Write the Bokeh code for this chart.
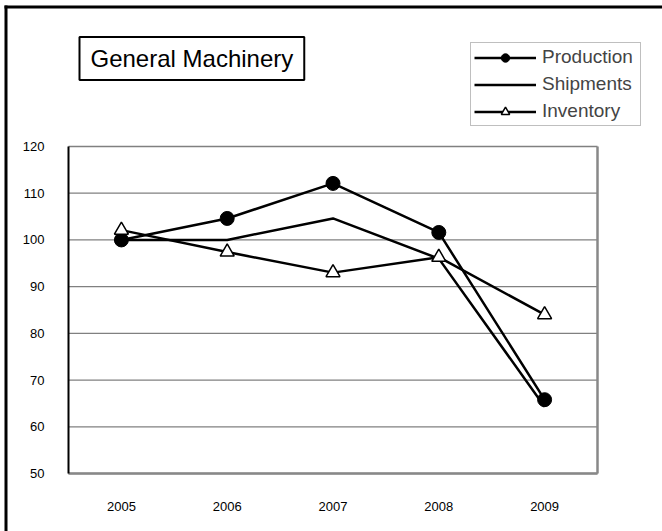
from bokeh.plotting import figure
from bokeh.models import (Range1d, Legend, LegendItem, Label, FixedTicker, BoxAnnotation)
from bokeh.embed import file_html
from bokeh.resources import INLINE

years = ["2005", "2006", "2007", "2008", "2009"]
production = [100.0, 104.6, 112.1, 101.6, 65.8]
shipments = [100.0, 100.0, 104.6, 96.0, 64.3]
inventory = [102.1, 97.4, 93.0, 96.3, 84.0]
y_ticks = [50, 60, 70, 80, 90, 100, 110, 120]
title_text = "General Machinery"

FONT = "Liberation Sans"
xs = [int(y) for y in years]

# ---- layout (canvas pixels) ----
W, H = 662, 531
PL, PR, PT, PB = 68, 597, 146, 473      # plot-area box edges
x0, x1 = xs[0] - 0.5, xs[-1] + 0.5
y0, y1 = y_ticks[0], y_ticks[-1]
ppx = (PR - PL) / (x1 - x0)
ppy = (PB - PT) / (y1 - y0)
x_start, x_end = x0 - PL / ppx, x1 + (W - PR) / ppx
y_start, y_end = y0 - (H - PB) / ppy, y1 + PT / ppy

p = figure(width=W, height=H, x_range=Range1d(x_start, x_end),
           y_range=Range1d(y_start, y_end), output_backend="svg", toolbar_location=None,
           min_border_left=0, min_border_right=0, min_border_top=0, min_border_bottom=0)
p.outline_line_color = None
p.background_fill_color = "white"
p.border_fill_color = "white"
p.grid.visible = False

# outer frame of the chart sheet (top and left edges visible)
p.add_layout(BoxAnnotation(left=x_start + 4 / ppx, right=x_end,
                           top=y_end - 5 / ppy, bottom=y_end - 8 / ppy,
                           fill_color="black", fill_alpha=1, line_color=None))
p.add_layout(BoxAnnotation(left=x_start + 4 / ppx, right=x_start + 7 / ppx,
                           top=y_end - 5 / ppy, bottom=y_start,
                           fill_color="black", fill_alpha=1, line_color=None))

# horizontal gridlines and right border of the plot area
n = len(y_ticks)
p.segment(x0=[x0] * n, y0=y_ticks, x1=[x1] * n, y1=y_ticks,
          line_color="#808080", line_width=1.3)
p.segment(x0=[x1], y0=[y0], x1=[x1], y1=[y1], line_color="#888888", line_width=2.5)

p.yaxis.fixed_location = x0
p.yaxis.ticker = FixedTicker(ticks=y_ticks)
p.yaxis.bounds = (y0, y1)
p.yaxis.axis_line_color = "black"
p.yaxis.axis_line_width = 2
p.yaxis.major_tick_line_color = None
p.yaxis.minor_tick_line_color = None
p.yaxis.major_label_standoff = 18
p.yaxis.major_label_text_font = FONT
p.yaxis.major_label_text_font_size = "13px"
p.yaxis.major_label_text_color = "black"

p.xaxis.fixed_location = y0
p.xaxis.ticker = FixedTicker(ticks=xs)
p.xaxis.bounds = (x0, x1)
p.xaxis.axis_line_color = "#888888"
p.xaxis.axis_line_width = 2.5
p.xaxis.major_tick_line_color = None
p.xaxis.minor_tick_line_color = None
p.xaxis.major_label_standoff = 22
p.xaxis.major_label_text_font = FONT
p.xaxis.major_label_text_font_size = "13px"
p.xaxis.major_label_text_color = "black"

r_prod = p.line(xs, production, line_color="black", line_width=2.5)
m_prod = p.scatter(xs, production, marker="circle", size=14, fill_color="black",
                   line_color="black")
r_ship = p.line(xs, shipments, line_color="black", line_width=2.5)
r_inv = p.line(xs, inventory, line_color="black", line_width=2.5)
m_inv = p.scatter(xs, inventory, marker="triangle", size=14, fill_color="white",
                  line_color="black", line_width=1.5)

legend = Legend(items=[LegendItem(label="Production", renderers=[r_prod, m_prod]),
                       LegendItem(label="Shipments", renderers=[r_ship]),
                       LegendItem(label="Inventory", renderers=[r_inv, m_inv])],
                location=(470, H - 126), orientation="vertical",
                glyph_width=62, glyph_height=21, label_height=21, label_width=95,
                label_standoff=6, spacing=5, padding=3, margin=0,
                label_text_font=FONT, label_text_font_size="19px",
                border_line_color="#808080", border_line_width=1,
                background_fill_color="white", background_fill_alpha=1)
p.add_layout(legend, "center")

title = Label(x=79, y=H - 58, x_units="screen", y_units="screen", text=title_text,
              text_font=FONT, text_font_size="24px", text_color="black",
              text_baseline="middle",
              border_line_color="black", border_line_width=2,
              background_fill_color="white", padding=(11, 8))
p.add_layout(title)

open("out.html", "w").write(file_html(p, INLINE))
